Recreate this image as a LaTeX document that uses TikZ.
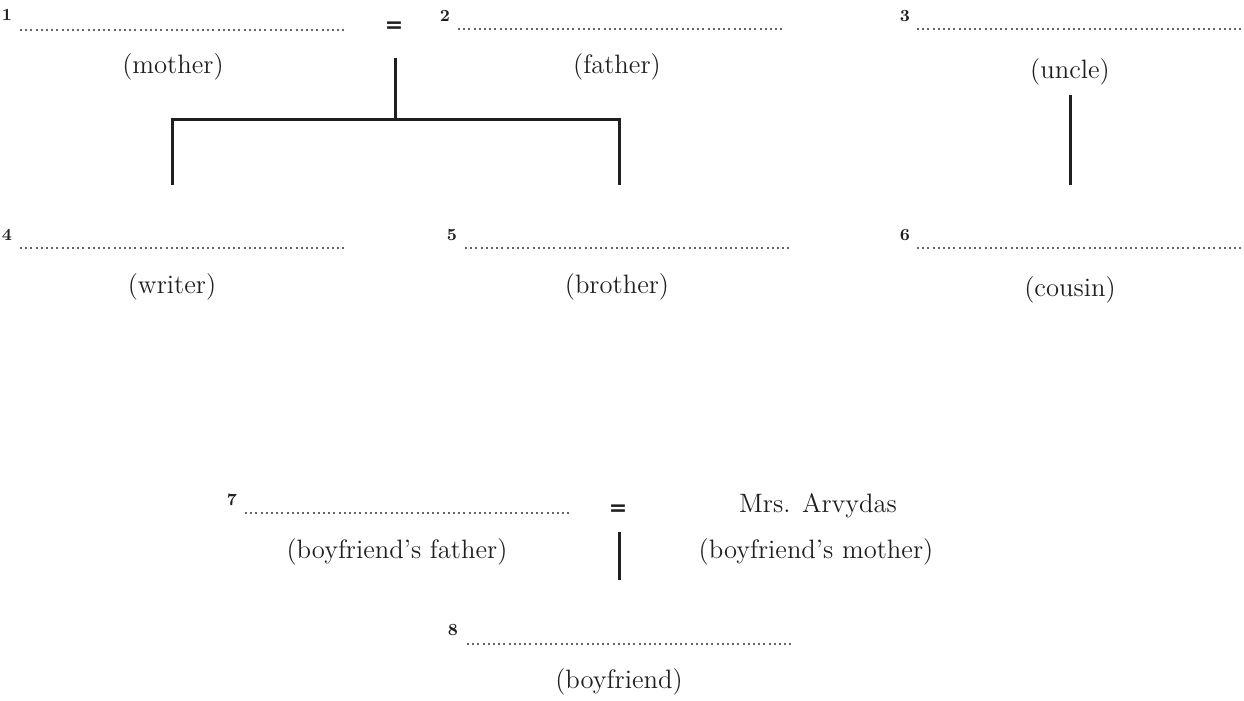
\documentclass[tikz,border=0pt]{standalone}
\usepackage{amsmath}
\usepackage{amssymb}
\usepackage{fontspec}
\usepackage{tikz}

\newfontfamily\eqfont{DejaVu Sans}

\tikzset{
  blank/.style={black!60, line width=1pt, dash pattern=on 1pt off 1.6pt},
  kin/.style={black!88, line width=1.5pt},
  rel/.style={inner sep=0pt, text=black!88, font=\fontsize{13.3}{16}\selectfont},
  num/.style={inner sep=0pt, text=black!88, font=\bfseries\fontsize{8.5}{10}\selectfont},
  eq/.style={inner sep=0pt, text=black!88, font=\eqfont\bfseries\fontsize{11}{13}\selectfont}
}

\begin{document}
\begin{tikzpicture}[x=0.5pt, y=-0.5pt]
\useasboundingbox (0,0) rectangle (1244,701);
% parents and uncle
\node[num] (n1) at (7,15) {1};
\coordinate (b1w) at (20,30); \coordinate (b1e) at (345,30);
\draw[blank] (b1w) -- (b1e);
\node[rel] (mother) at (173,67) {(mother)};
\node[eq] (eq1) at (394,27) {=};
\node[num] (n2) at (445,16) {2};
\coordinate (b2w) at (458,29); \coordinate (b2e) at (783,29);
\draw[blank] (b2w) -- (b2e);
\node[rel] (father) at (617,67) {(father)};
\node[num] (n3) at (905,16) {3};
\coordinate (b3w) at (917,29); \coordinate (b3e) at (1244,29);
\draw[blank] (b3w) -- (b3e);
\node[rel] (uncle) at (1070,72) {(uncle)};
% children and cousin
\node[num] (n4) at (7,235) {4};
\coordinate (b4w) at (20,248); \coordinate (b4e) at (345,248);
\draw[blank] (b4w) -- (b4e);
\node[rel] (writer) at (172,287) {(writer)};
\node[num] (n5) at (452,235) {5};
\coordinate (b5w) at (465,248); \coordinate (b5e) at (790,248);
\draw[blank] (b5w) -- (b5e);
\node[rel] (brother) at (617,287) {(brother)};
\node[num] (n6) at (905,235) {6};
\coordinate (b6w) at (917,248); \coordinate (b6e) at (1244,248);
\draw[blank] (b6w) -- (b6e);
\node[rel] (cousin) at (1070,290) {(cousin)};
% family tree lines
\coordinate (top) at (395,58);
\coordinate (fork) at (395,120);
\coordinate (forkw) at (172,120); \coordinate (forke) at (619,120);
\coordinate (kidw) at (172,185); \coordinate (kide) at (619,185);
\draw[kin] (top) -- (fork);
\draw[kin] (kidw) -- (forkw) -- (forke) -- (kide);
\coordinate (u1) at (1070,95); \coordinate (u2) at (1070,185);
\draw[kin] (u1) -- (u2);
% boyfriend's family
\node[num] (n7) at (232,500) {7};
\coordinate (b7w) at (245,513); \coordinate (b7e) at (570,513);
\draw[blank] (b7w) -- (b7e);
\node[rel] (bfather) at (397,552) {(boyfriend's father)};
\node[eq] (eq2) at (618,510) {=};
\node[rel] (arvydas) at (818,506) {Mrs. Arvydas};
\node[rel] (bmother) at (816,552) {(boyfriend's mother)};
\coordinate (p1) at (619,532); \coordinate (p2) at (619,580);
\draw[kin] (p1) -- (p2);
\node[num] (n8) at (453,630) {8};
\coordinate (b8w) at (467,644); \coordinate (b8e) at (792,644);
\draw[blank] (b8w) -- (b8e);
\node[rel] (bfriend) at (619,682) {(boyfriend)};
\end{tikzpicture}
\end{document}
